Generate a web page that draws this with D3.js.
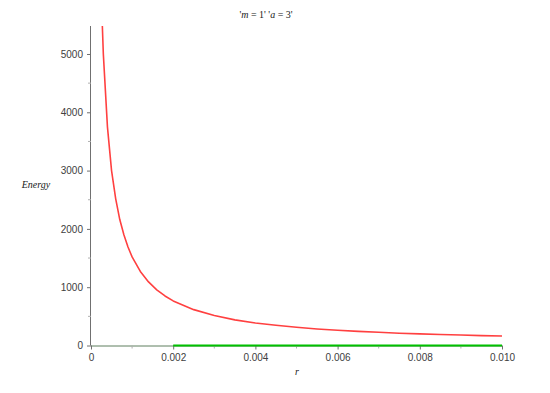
<!DOCTYPE html>
<html>
<head>
<meta charset="utf-8">
<script src="https://cdn.jsdelivr.net/npm/d3@7"></script>
<style>
  html, body { margin: 0; padding: 0; background: #fff; }
  svg { display: block; }
</style>
</head>
<body>
<svg id="chart" width="550" height="393"></svg>
<script>
// ---- data ----
const redR = [0.00025, 0.0003, 0.0004, 0.0005, 0.0006, 0.0007, 0.0008, 0.0009, 0.0010,
              0.0012, 0.0014, 0.0016, 0.0018, 0.0020, 0.0025, 0.0030, 0.0035, 0.0040,
              0.0045, 0.0050, 0.0055, 0.0060, 0.0065, 0.0070, 0.0075, 0.0080, 0.0085,
              0.0090, 0.0095, 0.0100];
const redEnergy = [6000, 5000, 3750, 3000, 2520, 2160, 1900, 1690, 1520,
                   1270, 1090, 955, 850, 765, 615, 515, 440, 387,
                   346, 312, 284, 262, 242, 226, 211, 199, 188,
                   179, 170, 163];
const greenR = [0.002, 0.003, 0.004, 0.005, 0.006, 0.007, 0.008, 0.009, 0.010];
const greenEnergy = [0, 0, 0, 0, 0, 0, 0, 0, 0];
const xTicks = [0, 0.002, 0.004, 0.006, 0.008, 0.010];
const xTickLabels = ["0", "0.002", "0.004", "0.006", "0.008", "0.010"];
const xMinorTicks = [0.001, 0.003, 0.005, 0.007, 0.009];
const yTicks = [0, 1000, 2000, 3000, 4000, 5000];
const yMinorTicks = [500, 1500, 2500, 3500, 4500];
const xDomain = [0, 0.010];
const yDomain = [0, 5480];

// ---- layout ----
const svg = d3.select("#chart");
const mLeft = 91, mRight = 502, mTop = 26, mBottom = 345.5;

const x = d3.scaleLinear().domain(xDomain).range([mLeft, mRight]);
const y = d3.scaleLinear().domain(yDomain).range([mBottom, mTop]);

const axisColor = "#707070";
const labelColor = "#404040";
const tickFont = "'Liberation Sans', Arial, sans-serif";

svg.append("defs").append("clipPath").attr("id", "plotclip")
  .append("rect").attr("x", mLeft).attr("y", mTop).attr("width", mRight - mLeft + 2).attr("height", mBottom - mTop + 2);

// Y axis
const yAxis = d3.axisLeft(y).tickValues(yTicks).tickFormat(d3.format("d")).tickSize(4).tickPadding(4);
const gy = svg.append("g").attr("transform", `translate(${mLeft},0)`).call(yAxis);
gy.select(".domain").attr("stroke", axisColor).attr("d", `M-0.5,${mTop}V${mBottom}`);
gy.selectAll(".tick line").attr("stroke", axisColor);
gy.selectAll(".tick text").attr("fill", labelColor).style("font-family", tickFont).style("font-size", "10px");
gy.selectAll(".minor").data(yMinorTicks).enter().append("line")
  .attr("class", "minor").attr("x1", -3).attr("x2", 0)
  .attr("y1", d => y(d)).attr("y2", d => y(d)).attr("stroke", "#b0b0b0");

// X axis
const xAxis = d3.axisBottom(x).tickValues(xTicks).tickFormat((d, i) => xTickLabels[i]).tickSize(4).tickPadding(4);
const gx = svg.append("g").attr("transform", `translate(0,${mBottom})`).call(xAxis);
gx.select(".domain").attr("stroke", "#5f7f5f").attr("d", `M${mLeft},0.5H${mRight}`);
gx.selectAll(".tick line").attr("stroke", axisColor);
gx.selectAll(".tick text").attr("fill", labelColor).style("font-family", tickFont).style("font-size", "10px");
gx.selectAll(".minor").data(xMinorTicks).enter().append("line")
  .attr("class", "minor").attr("y1", 0).attr("y2", 3)
  .attr("x1", d => x(d)).attr("x2", d => x(d)).attr("stroke", "#b0b0b0");

// Lines
const line = d3.line().x(d => x(d[0])).y(d => y(d[1]));
const plot = svg.append("g").attr("clip-path", "url(#plotclip)");
plot.append("path")
  .datum(greenR.map((r, i) => [r, greenEnergy[i]]))
  .attr("d", line).attr("fill", "none").attr("stroke", "#00c000").attr("stroke-width", 2);
plot.append("path")
  .datum(redR.map((r, i) => [r, redEnergy[i]]))
  .attr("d", line).attr("fill", "none").attr("stroke", "#ff4040").attr("stroke-width", 1.6)
  .attr("stroke-linejoin", "round");

// Title
const serif = "'Liberation Serif', 'Times New Roman', serif";
const title = svg.append("text").attr("x", 266).attr("y", 18).attr("text-anchor", "middle")
  .style("font-family", serif).style("font-size", "10px").attr("fill", "#202020");
title.append("tspan").text("'");
title.append("tspan").text("m").style("font-style", "italic");
title.append("tspan").text(" = 1' '");
title.append("tspan").text("a").style("font-style", "italic");
title.append("tspan").text(" = 3'");

// Axis labels
svg.append("text").attr("x", 36).attr("y", 188).attr("text-anchor", "middle")
  .style("font-family", serif).style("font-style", "italic").style("font-size", "10px")
  .attr("fill", "#202020").text("Energy");
svg.append("text").attr("x", 297).attr("y", 375).attr("text-anchor", "middle")
  .style("font-family", serif).style("font-style", "italic").style("font-size", "10px")
  .attr("fill", "#202020").text("r");
</script>
</body>
</html>
